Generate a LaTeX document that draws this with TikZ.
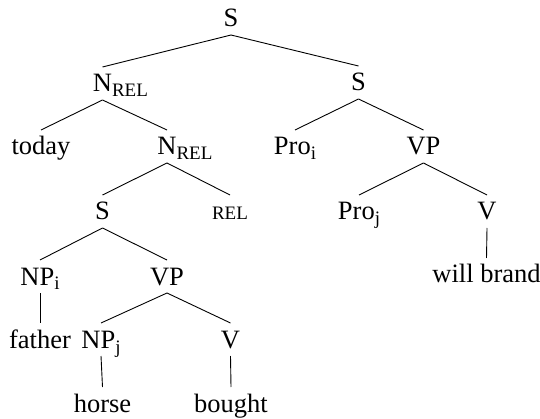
\documentclass[tikz,border=0pt]{standalone}
\usepackage{fontspec}
\setmainfont{Liberation Serif}
\newcommand\lsub[1]{\raisebox{-5pt}{\fontsize{19}{21}\selectfont #1}}
\begin{document}
\begin{tikzpicture}[x=1pt,y=-1pt,
  lbl/.style={anchor=base,inner sep=0pt,font=\fontsize{26.5}{31}\selectfont},
  small/.style={anchor=base,inner sep=0pt,font=\fontsize{19}{21}\selectfont},
  edge/.style={line width=0.9pt}]
\useasboundingbox (0,0) rectangle (540,419);
% level 0
\node[lbl] (s0) at (231,27) {S};
% level 1
\node[lbl] (nrela) at (102.5,92) {N\rlap{\lsub{REL}}};
\node[lbl] (s1) at (358.5,91) {S};
% level 2
\node[lbl] (today) at (41,155) {today};
\node[lbl] (nrelb) at (167,155) {N\rlap{\lsub{REL}}};
\node[lbl] (proi) at (295,155) {Pro\lsub{i}};
\node[lbl] (vpa) at (423.5,155) {VP};
% level 3
\node[lbl] (s2) at (102.5,220) {S};
\node[small] (rel) at (230,220) {REL};
\node[lbl] (proj) at (359,220) {Pro\lsub{j}};
\node[lbl] (va) at (487,220) {V};
% level 4
\node[lbl] (npi) at (40,285) {NP\lsub{i}};
\node[lbl] (vpb) at (167,285) {VP};
\node[lbl] (wb) at (486.5,283) {will brand};
% level 5
\node[lbl] (father) at (40,348) {father};
\node[lbl] (npj) at (101,348) {NP\lsub{j}};
\node[lbl] (vb) at (230.5,348) {V};
% level 6
\node[lbl] (horse) at (102.5,412) {horse};
\node[lbl] (bought) at (231,412) {bought};
% edges
\foreach \p/\c in {s0/nrela, s0/s1, nrela/today, nrela/nrelb, s1/proi, s1/vpa,
  nrelb/s2, nrelb/rel, vpa/proj, vpa/va, va/wb, s2/npi, s2/vpb, npi/father,
  vpb/npj, vpb/vb, npj/horse, vb/bought}
  \draw[edge] ([yshift=-8pt]\p.base) -- ([yshift=25pt]\c.base);
\end{tikzpicture}
\end{document}
